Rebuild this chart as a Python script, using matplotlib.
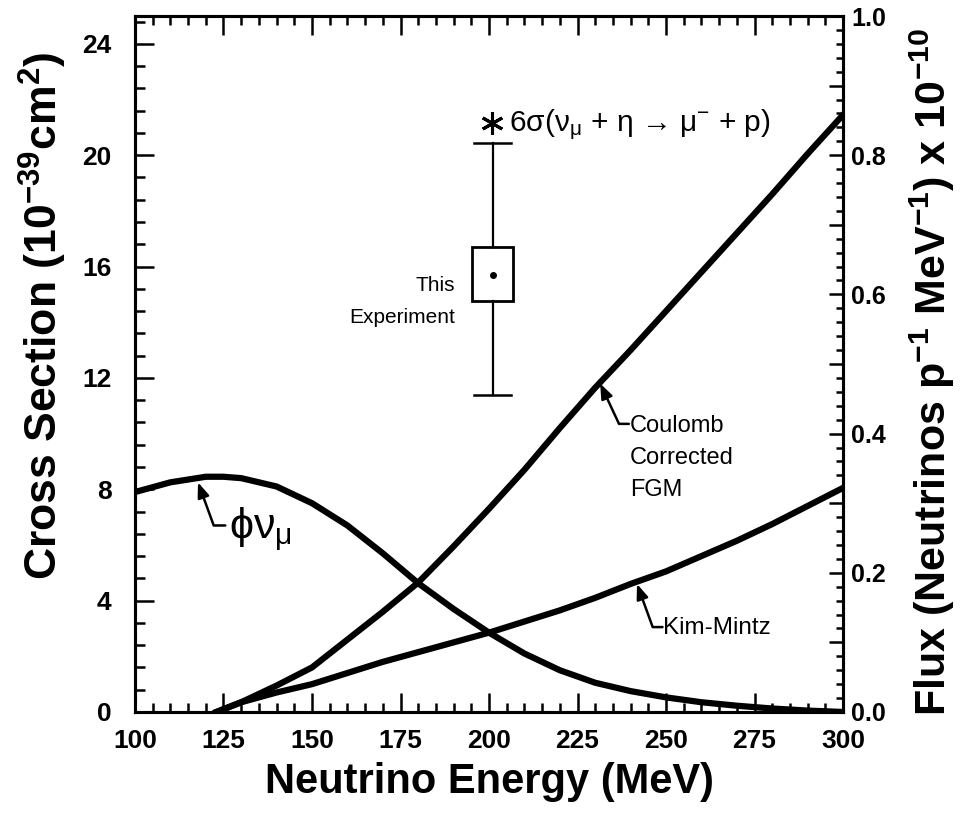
import matplotlib
matplotlib.use("Agg")
import matplotlib.pyplot as plt
from matplotlib.patches import Rectangle
from matplotlib.ticker import MultipleLocator, FuncFormatter

plt.rcParams["font.family"] = ["Liberation Sans", "DejaVu Sans"]
plt.rcParams["mathtext.default"] = "regular"

# Data
energy = [100, 110, 120, 125, 130, 140, 150, 160, 170, 180, 190, 200,
          210, 220, 230, 240, 250, 260, 270, 280, 290, 300]
# neutrino flux (right axis, 1e-10 nu / p / MeV)
flux = [0.316, 0.330, 0.338, 0.338, 0.336, 0.324, 0.300, 0.268, 0.228, 0.185,
        0.148, 0.114, 0.084, 0.060, 0.042, 0.030, 0.021, 0.014, 0.009, 0.005,
        0.002, 0.0]

xs_energy = [123, 130, 140, 150, 160, 170, 180, 190, 200, 210, 220, 230,
             240, 250, 260, 270, 280, 290, 300]
coulomb_fgm = [0.0, 0.35, 0.95, 1.6, 2.6, 3.6, 4.65, 5.95, 7.3, 8.7, 10.2, 11.65,
               13.0, 14.4, 15.8, 17.2, 18.6, 20.05, 21.45]
kim_mintz = [0.0, 0.35, 0.7, 1.0, 1.4, 1.8, 2.15, 2.5, 2.85, 3.25, 3.65, 4.1,
             4.6, 5.05, 5.6, 6.15, 6.75, 7.4, 8.05]

# this experiment: 6 * sigma, box = statistical, bars = total
exp_energy = 201
exp_sigma = 15.7
box_lo, box_hi = 14.76, 16.7
bar_lo, bar_hi = 11.4, 20.45

fig = plt.figure(figsize=(9.67, 8.18), dpi=100)
ax = fig.add_axes([0.1396, 0.1296, 0.7322, 0.8508])
ax2 = ax.twinx()

lw = 4.5
ax.plot(xs_energy, coulomb_fgm, color="black", lw=lw, solid_joinstyle="round")
ax.plot(xs_energy, kim_mintz, color="black", lw=lw, solid_joinstyle="round")
ax2.plot(energy, flux, color="black", lw=lw, solid_joinstyle="round")

# experimental point
ax.plot([exp_energy, exp_energy], [bar_lo, box_lo], color="black", lw=1.6)
ax.plot([exp_energy, exp_energy], [box_hi, bar_hi], color="black", lw=1.6)
ax.plot([exp_energy - 5.3, exp_energy + 5.3], [bar_lo, bar_lo], color="black", lw=1.8)
ax.plot([exp_energy - 5.3, exp_energy + 5.3], [bar_hi, bar_hi], color="black", lw=1.8)
ax.add_patch(Rectangle((exp_energy - 5.9, box_lo), 11.8, box_hi - box_lo,
                       fill=False, ec="black", lw=2.0))
ax.plot([exp_energy], [exp_sigma], "o", color="black", ms=4)
ax.plot([200.8], [21.15], marker=(6, 2, 0), color="black", ms=16, mew=2.2)
ax.text(205.6, 21.1, "6σ(ν$_{μ}$ + η → μ$^{-}$ + p)", fontsize=21.5,
        ha="left", va="center")
ax.text(190.5, 14.75, "This\nExperiment", fontsize=15, ha="right",
        va="center", linespacing=1.9)

# annotations
arrow = dict(arrowstyle="-|>,head_length=0.9,head_width=0.35", color="black",
             lw=1.8, shrinkA=0, shrinkB=0)
ax.annotate("", xy=(231.4, 11.8), xytext=(239.5, 10.35),
            arrowprops=dict(arrow, connectionstyle="angle,angleA=0,angleB=115,rad=0"))
ax.text(239.8, 9.12, "Coulomb\nCorrected\nFGM", fontsize=17, ha="left", va="center",
        linespacing=1.6)
ax.annotate("", xy=(241.8, 4.6), xytext=(249.0, 3.05),
            arrowprops=dict(arrow, connectionstyle="angle,angleA=0,angleB=110,rad=0"))
ax.text(249.2, 3.0, "Kim-Mintz", fontsize=17.5, ha="left", va="center")
ax.annotate("", xy=(117.8, 8.25), xytext=(125.5, 6.7),
            arrowprops=dict(arrow, connectionstyle="angle,angleA=0,angleB=110,rad=0"))
ax.text(126.5, 6.55, "ϕν$_{μ}$", fontsize=31, ha="left", va="center")

# axes
ax.set_xlim(100, 300)
ax.set_ylim(0, 25)
ax2.set_ylim(0, 1.0)

ax.xaxis.set_major_locator(MultipleLocator(25))
ax.xaxis.set_minor_locator(MultipleLocator(5))
ax.yaxis.set_major_locator(MultipleLocator(4))
ax.yaxis.set_minor_locator(MultipleLocator(0.8))
ax2.yaxis.set_major_locator(MultipleLocator(0.1))
ax2.yaxis.set_minor_locator(MultipleLocator(0.02))
ax2.yaxis.set_major_formatter(
    FuncFormatter(lambda v, p: f"{v:.1f}" if round(v * 10) % 2 == 0 else ""))

ax.tick_params(axis="x", which="both", direction="in", top=True, bottom=True,
               width=1.8, labelsize=19, pad=12)
ax.tick_params(axis="x", which="major", length=14)
ax.tick_params(axis="x", which="minor", length=6.5)
ax.tick_params(axis="y", which="both", direction="in", left=True, right=False,
               width=1.8, labelsize=19, pad=17)
ax.tick_params(axis="y", which="major", length=14)
ax.tick_params(axis="y", which="minor", length=7.5)
ax2.tick_params(axis="y", which="both", direction="in", right=True, left=False,
                width=1.8, labelsize=18, pad=6)
ax2.tick_params(axis="y", which="major", length=10)
ax2.tick_params(axis="y", which="minor", length=5)
for a in (ax, ax2):
    for lab in a.get_xticklabels() + a.get_yticklabels():
        lab.set_fontweight("bold")
    for s in a.spines.values():
        s.set_linewidth(2.2)

ax.set_xlabel("Neutrino Energy (MeV)", fontsize=30, fontweight="bold")
ax.set_ylabel("Cross Section (10$^{-39}$cm$^{2}$)", fontsize=32, fontweight="bold")
ax2.set_ylabel("Flux (Neutrinos p$^{-1}$ MeV$^{-1}$) x 10$^{-10}$", fontsize=31,
               fontweight="bold")
ax.xaxis.label.set_va("center")
ax.yaxis.label.set_va("center")
ax2.yaxis.label.set_va("center")
ax.xaxis.set_label_coords(0.5, -0.10)
ax.yaxis.set_label_coords(-0.13, 0.569)
ax2.yaxis.set_label_coords(1.1257, 0.488)

fig.savefig("out.png", dpi=100)
